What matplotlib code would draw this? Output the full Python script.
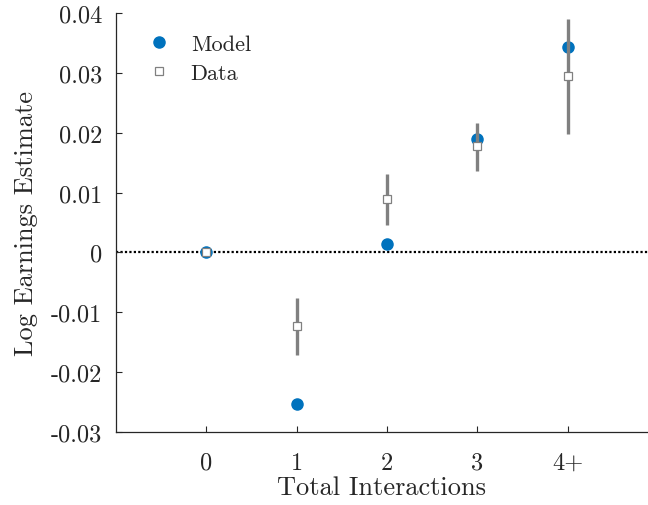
import matplotlib
matplotlib.use("Agg")
import matplotlib.pyplot as plt

plt.rcParams['font.family'] = ['cmr10', 'DejaVu Serif']
plt.rcParams['mathtext.fontset'] = 'cm'

categories = ["0", "1", "2", "3", "4+"]
model_values = [0.0, -0.0254, 0.0014, 0.0190, 0.0343]
data_values = [0.0, -0.01225, 0.0090, 0.0178, 0.0295]
data_lower = [0.0, -0.0171, 0.0046, 0.0136, 0.0198]
data_upper = [0.0, -0.0076, 0.0131, 0.0216, 0.0390]
y_ticks = [-0.03, -0.02, -0.01, 0, 0.01, 0.02, 0.03, 0.04]
y_tick_labels = ["-0.03", "-0.02", "-0.01", "0", "0.01", "0.02", "0.03", "0.04"]

blue = "#0072BD"
grey = "#808080"
ink = "#262626"

fig = plt.figure(figsize=(6.48, 5.06), dpi=100)
ax = fig.add_axes([0.179, 0.1443, 0.821, 0.828])

x = list(range(len(categories)))

ax.axhline(0, color="black", linestyle=(0, (1, 1)), linewidth=1.6, zorder=1)

ax.plot(x, model_values, linestyle="none", marker="o", markersize=8,
        color=blue, markeredgecolor=blue, label="Model", zorder=2)

for xi, lo, hi in zip(x, data_lower, data_upper):
    if hi > lo:
        ax.plot([xi, xi], [lo, hi], color=grey, linewidth=2.4,
                solid_capstyle="butt", zorder=3)

ax.plot(x, data_values, linestyle="none", marker="s", markersize=6,
        markerfacecolor="white", markeredgecolor=grey, markeredgewidth=0.9,
        label="Data", zorder=4)

ax.set_xlim(-1, 4.89)
ax.set_ylim(-0.03, 0.04)
ax.set_xticks(x)
ax.set_xticklabels(categories)
ax.set_yticks(y_ticks)
ax.set_yticklabels(y_tick_labels)

for side in ("top", "right"):
    ax.spines[side].set_visible(False)
for side in ("left", "bottom"):
    ax.spines[side].set_color(ink)
    ax.spines[side].set_linewidth(0.9)

ax.tick_params(direction="in", length=4, width=0.8, colors=ink,
               labelsize=17.5, pad=10)
ax.tick_params(axis="x", pad=14)

ax.set_xlabel("Total Interactions", fontsize=19, color=ink, labelpad=1)
ax.set_ylabel("Log Earnings Estimate", fontsize=19, color=ink, labelpad=9)

leg = ax.legend(loc="upper left", frameon=False, fontsize=16,
                bbox_to_anchor=(0.011, 0.997), handletextpad=0.7,
                labelspacing=0.42, handlelength=1.5)
for t in leg.get_texts():
    t.set_color(ink)

fig.savefig("out.png", dpi=100)
